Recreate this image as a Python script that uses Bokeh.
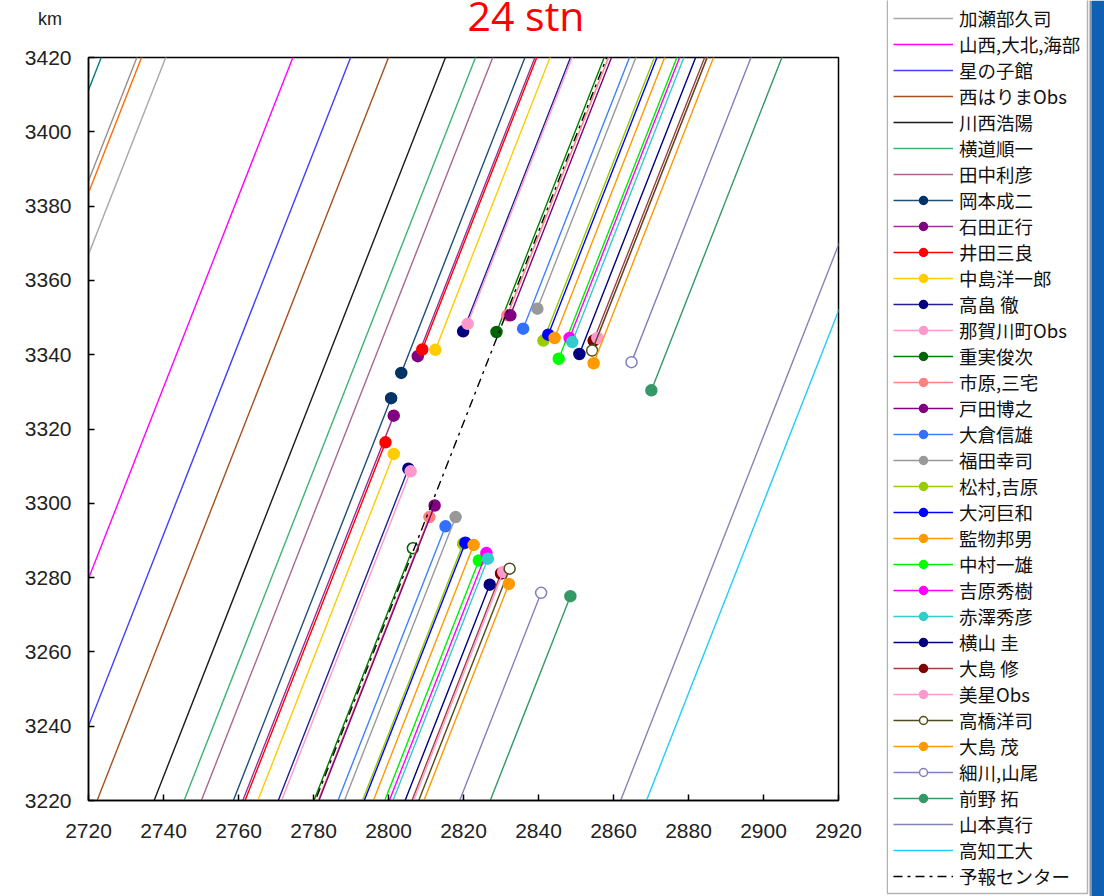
from bokeh.plotting import figure
from bokeh.models import Range1d, FixedTicker, Legend, LegendItem, BoxAnnotation, ColumnDataSource, Div
from bokeh.layouts import row, column
from bokeh.embed import file_html
from bokeh.resources import INLINE

# Shadow track direction on the fundamental plane (km north per km east)
SLOPE = 2.574
X_LO, X_HI = 2720, 2920
Y_LO, Y_HI = 3220, 3420

x_ticks = list(range(2720, 2921, 20))
y_ticks = list(range(3220, 3421, 20))

# Observers, in legend order
names = ["加瀬部久司", "山西,大北,海部", "星の子館", "西はりまObs", "川西浩陽", "横道順一", "田中利彦",
         "岡本成二", "石田正行", "井田三良", "中島洋一郎", "高畠 徹", "那賀川町Obs", "重実俊次",
         "市原,三宅", "戸田博之", "大倉信雄", "福田幸司", "松村,吉原", "大河巨和", "監物邦男",
         "中村一雄", "吉原秀樹", "赤澤秀彦", "横山 圭", "大島 修", "美星Obs", "高橋洋司",
         "大島 茂", "細川,山尾", "前野 拓", "山本真行", "高知工大"]

line_colors = ["#a8a8a8", "#ff00ff", "#3f3fff", "#a5501e", "#1a1a1a", "#3cb371", "#a9678f",
               "#1f4e79", "#993399", "#ff0000", "#ffcc00", "#20208f", "#ff99cc", "#008000",
               "#ff8080", "#800080", "#4080ff", "#999999", "#99cc00", "#0000ff", "#ff9900",
               "#00ee00", "#ff00ff", "#33cccc", "#000080", "#a04040", "#ff99cc", "#4d4d1a",
               "#ff9900", "#8080c0", "#339966", "#8585b5", "#22ccff"]

marker_colors = [None, None, None, None, None, None, None,
                 "#003366", "#800080", "#ff0000", "#ffcc00", "#000080", "#ff99cc", "#006400",
                 "#ff8080", "#800080", "#3370ff", "#999999", "#99cc00", "#0000ff", "#ff9900",
                 "#00ff00", "#ff00ff", "#33cccc", "#000080", "#800000", "#ff99cc", "#4d4d1a",
                 "#ff9900", "#8080c0", "#339966", None, None]

# Chords without an occultation: x (km) where the chord crosses y = 3220
no_event_x0 = {"加瀬部久司": 2662.9, "山西,大北,海部": 2696.8, "星の子館": 2712.2,
               "西はりまObs": 2722.3, "川西浩陽": 2737.5, "横道順一": 2745.5,
               "田中利彦": 2750.1, "山本真行": 2861.9, "高知工大": 2868.8}

# Event points (km): upper end of the gap and lower end of the gap
upper_x = {"岡本成二": 2803.4, "石田正行": 2807.8, "井田三良": 2809.0, "中島洋一郎": 2812.5,
           "高畠 徹": 2819.9, "那賀川町Obs": 2821.1, "重実俊次": 2828.8, "市原,三宅": 2831.7,
           "戸田博之": 2832.5, "大倉信雄": 2835.9, "福田幸司": 2839.7, "松村,吉原": 2841.3,
           "大河巨和": 2842.6, "監物邦男": 2844.3, "中村一雄": 2845.4, "吉原秀樹": 2848.3,
           "赤澤秀彦": 2849.0, "横山 圭": 2850.9, "大島 修": 2854.7, "美星Obs": 2855.7,
           "高橋洋司": 2854.3, "大島 茂": 2854.7, "細川,山尾": 2864.8, "前野 拓": 2870.1}
upper_y = {"岡本成二": 3335.1, "石田正行": 3339.6, "井田三良": 3341.4, "中島洋一郎": 3341.3,
           "高畠 徹": 3346.3, "那賀川町Obs": 3348.3, "重実俊次": 3346.1, "市原,三宅": 3350.6,
           "戸田博之": 3350.6, "大倉信雄": 3347.0, "福田幸司": 3352.4, "松村,吉原": 3343.8,
           "大河巨和": 3345.4, "監物邦男": 3344.5, "中村一雄": 3338.9, "吉原秀樹": 3344.5,
           "赤澤秀彦": 3343.4, "横山 圭": 3340.2, "大島 修": 3343.8, "美星Obs": 3344.5,
           "高橋洋司": 3341.1, "大島 茂": 3337.7, "細川,山尾": 3338.0, "前野 拓": 3330.4}
lower_x = {"岡本成二": 2800.7, "石田正行": 2801.4, "井田三良": 2799.2, "中島洋一郎": 2801.4,
           "高畠 徹": 2805.3, "那賀川町Obs": 2805.9, "重実俊次": 2806.5, "市原,三宅": 2810.9,
           "戸田博之": 2812.3, "大倉信雄": 2815.2, "福田幸司": 2817.9, "松村,吉原": 2819.9,
           "大河巨和": 2820.5, "監物邦男": 2822.7, "中村一雄": 2824.1, "吉原秀樹": 2826.1,
           "赤澤秀彦": 2826.5, "横山 圭": 2827.0, "大島 修": 2830.0, "美星Obs": 2830.6,
           "高橋洋司": 2832.3, "大島 茂": 2832.1, "細川,山尾": 2840.7, "前野 拓": 2848.5}
lower_y = {"岡本成二": 3328.3, "石田正行": 3323.6, "井田三良": 3316.4, "中島洋一郎": 3313.3,
           "高畠 徹": 3309.3, "那賀川町Obs": 3308.6, "重実俊次": 3287.9, "市原,三宅": 3296.3,
           "戸田博之": 3299.4, "大倉信雄": 3293.8, "福田幸司": 3296.3, "松村,吉原": 3289.1,
           "大河巨和": 3289.4, "監物邦男": 3288.8, "中村一雄": 3284.6, "吉原秀樹": 3286.6,
           "赤澤秀彦": 3285.1, "横山 圭": 3278.1, "大島 修": 3281.1, "美星Obs": 3281.5,
           "高橋洋司": 3282.4, "大島 茂": 3278.3, "細川,山尾": 3275.9, "前野 拓": 3275.0}

# Hollow markers: both events, or only the lower one
open_both = ["高橋洋司", "細川,山尾"]
open_lower = ["重実俊次"]

# Extra chords entering from the upper left (x at y = 3220)
extra_x0 = [2645.7, 2655.2, 2656.45]
extra_colors = ["#008080", "#909090", "#ff6a00"]

# Prediction centre line (x at y = 3220)
pred_name = "予報センター"
pred_x0 = 2780.5

title_text = "24 stn"
unit_text = "km"


def x_at(x, y, y_target):
    return x + (y_target - y) / SLOPE


LW = 1.4
Y_EXT_LO, Y_EXT_HI = Y_LO - 10, Y_HI + 10

# ---- main chart -------------------------------------------------------------
p = figure(width=886, height=856, output_backend="svg", toolbar_location=None,
           x_range=Range1d(X_LO, X_HI), y_range=Range1d(Y_LO, Y_HI),
           min_border_left=88, min_border_right=48, min_border_top=17, min_border_bottom=96)
p.grid.visible = False
p.outline_line_color = "black"
p.outline_line_width = 1.5
p.background_fill_color = "white"
p.border_fill_color = "white"

for ax, ticks in ((p.xaxis, x_ticks), (p.yaxis, y_ticks)):
    ax.ticker = FixedTicker(ticks=ticks)
    ax.major_tick_in = 6
    ax.major_tick_out = 0
    ax.minor_tick_line_color = None
    ax.axis_line_color = "black"
    ax.axis_line_width = 1.5
    ax.major_tick_line_color = "black"
    ax.major_tick_line_width = 1.5
    ax.major_label_text_font = "Liberation Sans"
    ax.major_label_text_font_size = "21px"
    ax.major_label_text_color = "#222222"
p.yaxis.major_label_standoff = 17
p.xaxis.major_label_standoff = 23

for x0, c in zip(extra_x0, extra_colors):
    p.line([x_at(x0, Y_LO, Y_EXT_LO), x_at(x0, Y_LO, Y_EXT_HI)], [Y_EXT_LO, Y_EXT_HI],
           line_color=c, line_width=LW)

for name, lc, mc in zip(names, line_colors, marker_colors):
    if name in no_event_x0:
        x0 = no_event_x0[name]
        p.line([x_at(x0, Y_LO, Y_EXT_LO), x_at(x0, Y_LO, Y_EXT_HI)], [Y_EXT_LO, Y_EXT_HI],
               line_color=lc, line_width=LW)
        continue
    ux, uy, lx, ly = upper_x[name], upper_y[name], lower_x[name], lower_y[name]
    xs = [x_at(ux, uy, Y_EXT_HI), ux, float("nan"), lx, x_at(lx, ly, Y_EXT_LO)]
    ys = [Y_EXT_HI, uy, float("nan"), ly, Y_EXT_LO]
    p.line(xs, ys, line_color=lc, line_width=LW)
    fills = [mc, mc]
    if name in open_both:
        fills = ["white", "white"]
    elif name in open_lower:
        fills = [mc, "white"]
    src = ColumnDataSource(dict(x=[ux, lx], y=[uy, ly], fill=fills))
    p.scatter("x", "y", source=src, size=11, fill_color="fill", line_color=mc, line_width=1.5)

p.line([x_at(pred_x0, Y_LO, Y_EXT_LO), x_at(pred_x0, Y_LO, Y_EXT_HI)], [Y_EXT_LO, Y_EXT_HI],
       line_color="black", line_width=1.4, line_dash="9 5 3 5")

# ---- heading strip: unit at the upper left, red station count centred ------
head_html = (
    '<div style="position:relative;width:886px;height:40px;overflow:visible;background:#fff;">'
    '<span style="position:absolute;left:38px;top:10px;font-family:\'Liberation Sans\';'
    'font-size:18px;line-height:18px;color:#222;white-space:nowrap;">' + unit_text + '</span>'
    '<span style="position:absolute;left:406px;width:240px;top:0px;text-align:center;'
    'font-family:\'Open Sans\';font-size:41px;line-height:30px;color:#ff0000;white-space:nowrap;">'
    + title_text + '</span></div>'
)
head = Div(text=head_html, width=886, height=40, styles={"margin": "0", "padding": "0"})

# ---- station key (pixel coordinates) ----------------------------------------
key = figure(width=218, height=896, output_backend="svg", toolbar_location=None,
             x_range=Range1d(0, 218), y_range=Range1d(0, 896),
             x_axis_location=None, y_axis_location=None,
             min_border=0, outline_line_color=None)
key.grid.visible = False
key.add_layout(BoxAnnotation(left=0.75, right=201, bottom=3, top=920,
                             fill_color="white", fill_alpha=1.0,
                             line_color="black", line_width=1.5))
key.add_layout(BoxAnnotation(left=203, right=205, bottom=0, top=896,
                             fill_color="#8a96a6", fill_alpha=1.0, line_color=None))
key.add_layout(BoxAnnotation(left=205, right=218, bottom=0, top=896,
                             fill_color="#0f5fb5", fill_alpha=1.0, line_color=None))

# key swatches: same styles as the chart, parked outside the key's visible range
off = [-100.0, -90.0]
items = []
for name, lc, mc in zip(names, line_colors, marker_colors):
    r = key.line(off, off, line_color=lc, line_width=LW)
    rs = [r]
    if mc is not None:
        fill = "white" if name in open_both else mc
        rs.append(key.scatter(off, off, size=11, fill_color=fill, line_color=mc, line_width=1.5))
    items.append(LegendItem(label=name, renderers=rs))
rp = key.line(off, off, line_color="black", line_width=1.4, line_dash="9 5 3 5")
items.append(LegendItem(label=pred_name, renderers=[rp]))

legend = Legend(items=items, location=(7, 7), orientation="vertical",
                label_text_font="Noto Sans CJK JP", label_text_font_size="18.5px",
                label_text_color="#111111", glyph_width=60, glyph_height=20, label_height=20,
                label_standoff=6, spacing=0, padding=0, margin=0,
                border_line_color=None, background_fill_alpha=0)
key.add_layout(legend)

layout = row(column(head, p, spacing=0), key, spacing=0)

open("out.html", "w").write(file_html(layout, INLINE))
